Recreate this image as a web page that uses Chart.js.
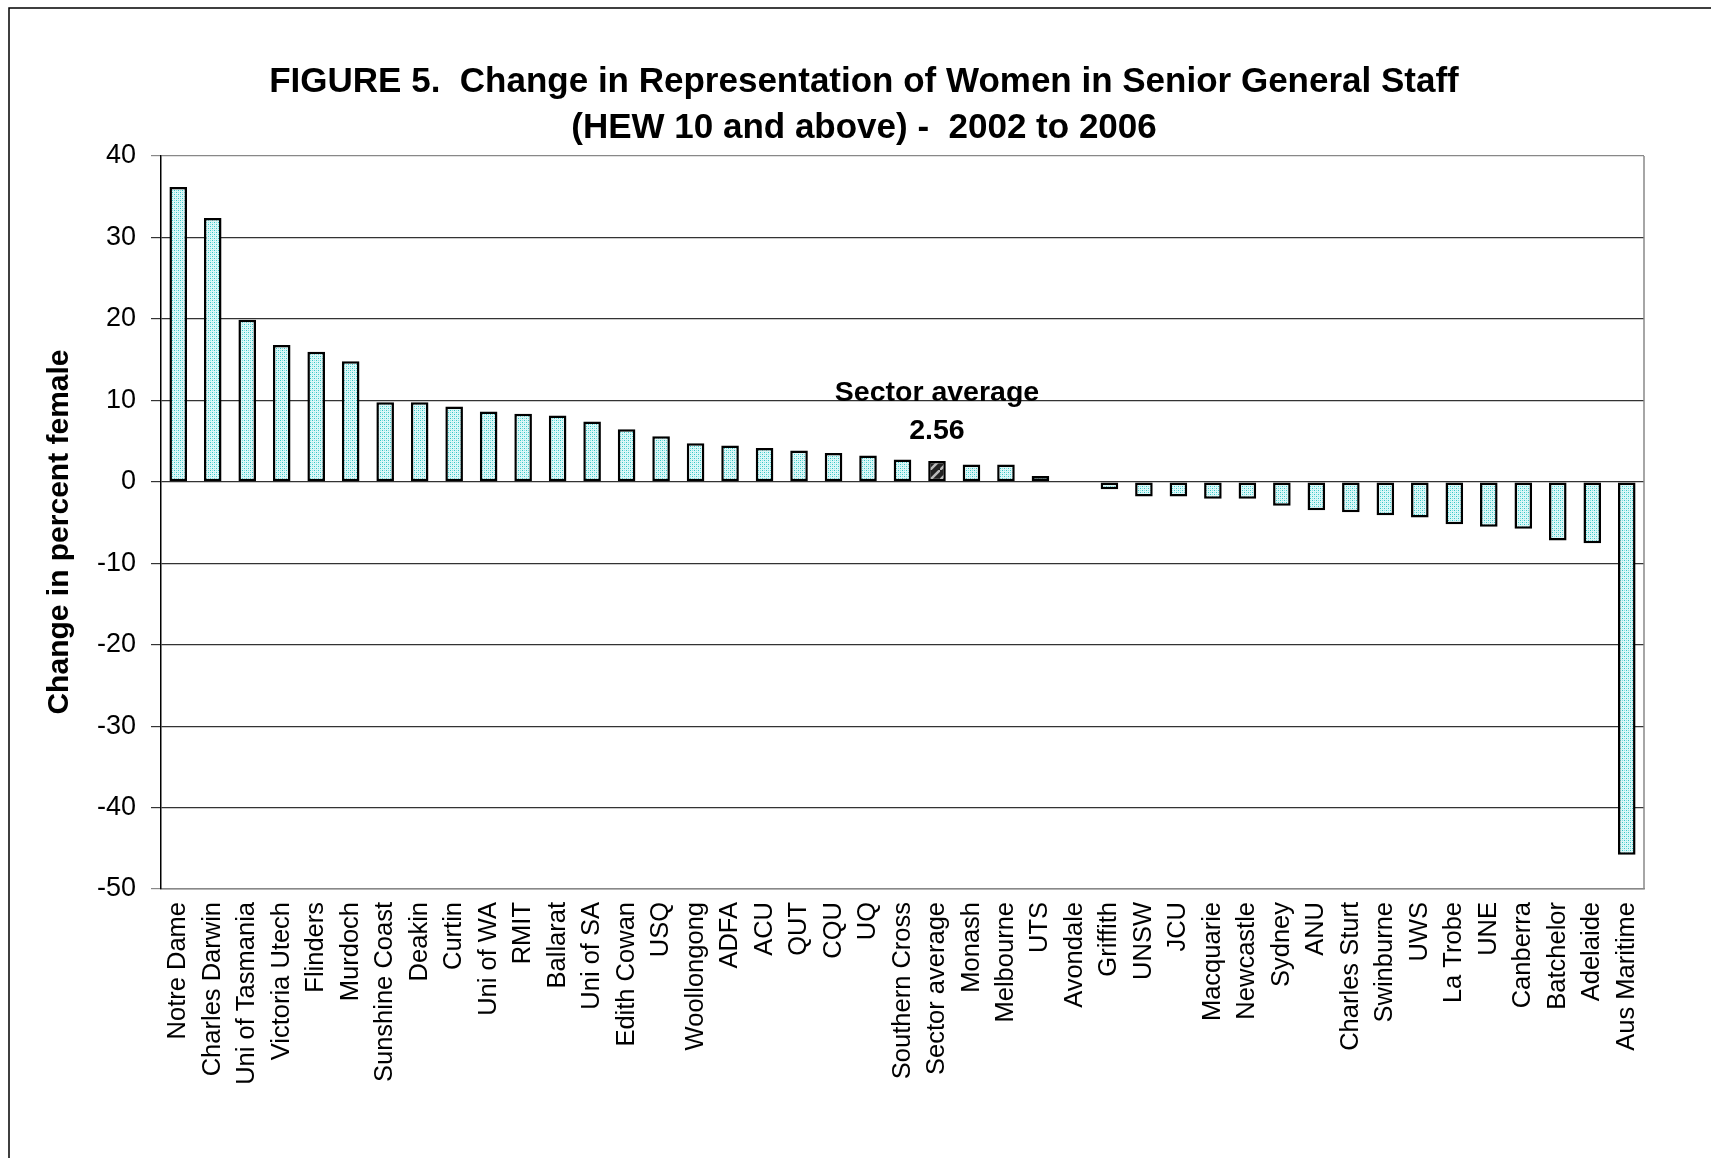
<!DOCTYPE html>
<html>
<head>
<meta charset="utf-8">
<script src="https://cdn.jsdelivr.net/npm/chart.js@4.4.0/dist/chart.umd.min.js"></script>
<style>
  html, body { margin: 0; padding: 0; background: #fff; }
  #wrap { width: 1711px; height: 1158px; position: relative; }
</style>
</head>
<body>
<div id="wrap"><canvas id="myBarChart"></canvas></div>
<script>
var categories = ['Notre Dame', 'Charles Darwin', 'Uni of Tasmania', 'Victoria Utech', 'Flinders', 'Murdoch',
  'Sunshine Coast', 'Deakin', 'Curtin', 'Uni of WA', 'RMIT', 'Ballarat', 'Uni of SA', 'Edith Cowan', 'USQ',
  'Woollongong', 'ADFA', 'ACU', 'QUT', 'CQU', 'UQ', 'Southern Cross', 'Sector average', 'Monash', 'Melbourne',
  'UTS', 'Avondale', 'Griffith', 'UNSW', 'JCU', 'Macquarie', 'Newcastle', 'Sydney', 'ANU', 'Charles Sturt',
  'Swinburne', 'UWS', 'La Trobe', 'UNE', 'Canberra', 'Batchelor', 'Adelaide', 'Aus Maritime'];

var changeValues = [36.2, 32.4, 19.9, 16.8, 15.95, 14.8,
  9.75, 9.75, 9.25, 8.63, 8.35, 8.15, 7.4, 6.45, 5.6,
  4.72, 4.45, 4.15, 3.85, 3.52, 3.24, 2.72, 2.56, 2.12, 2.12,
  0.7, 0, -0.92, -1.82, -1.82, -2.08, -2.08, -2.95, -3.5, -3.74,
  -4.1, -4.4, -5.2, -5.52, -5.76, -7.2, -7.55, -45.8];

var yTicks = [40, 30, 20, 10, 0, -10, -20, -30, -40, -50];

var titleLines = ['FIGURE 5.  Change in Representation of Women in Senior General Staff',
  '(HEW 10 and above) -  2002 to 2006'];
var yTitle = 'Change in percent female';
var averageLabel = 'Sector average';
var averageIndex = categories.indexOf(averageLabel);

// fill patterns (dotted cyan, dark diagonal)
function dotPattern() {
  var c = document.createElement('canvas');
  c.width = 4; c.height = 4;
  var g = c.getContext('2d');
  g.fillStyle = '#dcf8f8';
  g.fillRect(0, 0, 4, 4);
  g.fillStyle = '#33c6c6';
  g.fillRect(0, 0, 1, 1);
  g.fillRect(2, 2, 1, 1);
  g.fillStyle = '#8ee0e0';
  g.fillRect(2, 0, 1, 1);
  g.fillRect(0, 2, 1, 1);
  return g.createPattern(c, 'repeat');
}
function stripePattern() {
  var c = document.createElement('canvas');
  c.width = 10; c.height = 10;
  var g = c.getContext('2d');
  g.fillStyle = '#222';
  g.fillRect(0, 0, 10, 10);
  g.strokeStyle = '#bbb';
  g.lineWidth = 2.5;
  g.beginPath();
  g.moveTo(-2, 12); g.lineTo(12, -2);
  g.stroke();
  return g.createPattern(c, 'repeat');
}
var dots = dotPattern();
var stripes = stripePattern();

var FONT = "'Liberation Sans', Arial, sans-serif";

var decorPlugin = {
  id: 'decor',
  beforeDraw: function (chart) {
    var ctx = chart.ctx;
    ctx.save();
    ctx.fillStyle = '#fff';
    ctx.fillRect(0, 0, chart.width, chart.height);
    ctx.strokeStyle = '#000';
    ctx.lineWidth = 1.5;
    ctx.strokeRect(9, 8, chart.width + 20, chart.height + 20);
    ctx.restore();
  },
  afterDraw: function (chart) {
    var ctx = chart.ctx;
    var area = chart.chartArea;
    var xs = chart.scales.x, ys = chart.scales.y;
    ctx.save();
    // right border of plot area
    ctx.strokeStyle = '#888';
    ctx.lineWidth = 1.5;
    ctx.beginPath();
    ctx.moveTo(area.right, area.top);
    ctx.lineTo(area.right, area.bottom);
    ctx.stroke();
    // title
    ctx.fillStyle = '#000';
    ctx.textAlign = 'center';
    ctx.textBaseline = 'middle';
    ctx.font = 'bold 35px ' + FONT;
    ctx.fillText(titleLines[0], 864, 82);
    ctx.fillText(titleLines[1], 864, 128);
    // y axis title
    ctx.save();
    ctx.translate(60, 532);
    ctx.rotate(-Math.PI / 2);
    ctx.font = 'bold 30px ' + FONT;
    ctx.fillText(yTitle, 0, 0);
    ctx.restore();
    // sector average annotation
    var bx = xs.getPixelForValue(averageIndex);
    var by = ys.getPixelForValue(changeValues[averageIndex]);
    ctx.font = 'bold 28.5px ' + FONT;
    ctx.fillText(averageLabel, bx, by - 68);
    ctx.fillText(changeValues[averageIndex].toFixed(2), bx, by - 30);
    ctx.restore();
  }
};

var data = {
  labels: categories,
  datasets: [{
    label: yTitle,
    data: changeValues,
    backgroundColor: function (c) { return c.dataIndex === averageIndex ? stripes : dots; },
    borderColor: '#000',
    borderWidth: function (c) { return changeValues[c.dataIndex] === 0 ? 0 : 2.5; },
    borderSkipped: false,
    barPercentage: 0.51,
    categoryPercentage: 1.0
  }]
};

var options = {
  responsive: true,
  maintainAspectRatio: false,
  animation: false,
  layout: {
    padding: { top: 156, right: 67, left: 0, bottom: 0 }
  },
  scales: {
    x: {
      type: 'category',
      grid: { display: false, drawTicks: false },
      border: { display: true, color: '#888', width: 1.5 },
      ticks: {
        minRotation: 90,
        maxRotation: 90,
        autoSkip: false,
        padding: 13,
        color: '#000',
        font: { family: FONT, size: 25.5 }
      },
      afterFit: function (scale) { scale.height = 269; }
    },
    y: {
      min: -50,
      max: 40,
      afterBuildTicks: function (scale) {
        scale.ticks = yTicks.map(function (v) { return { value: v }; });
      },
      grid: {
        color: function (c) {
          return (c.tick && (c.tick.value === 40 || c.tick.value === -50)) ? '#888' : '#333';
        },
        lineWidth: 1.2,
        drawTicks: true,
        tickLength: 10
      },
      border: { display: true, color: '#000', width: 1.5 },
      ticks: {
        padding: 15,
        color: '#000',
        font: { family: FONT, size: 27 }
      },
      afterFit: function (scale) { scale.width = 161; }
    }
  },
  plugins: {
    legend: { display: false },
    tooltip: { enabled: false }
  }
};

var ctx = document.getElementById('myBarChart').getContext('2d');
var myBarChart = new Chart(ctx, {
  type: 'bar',
  data: data,
  options: options,
  plugins: [decorPlugin]
});
</script>
</body>
</html>
